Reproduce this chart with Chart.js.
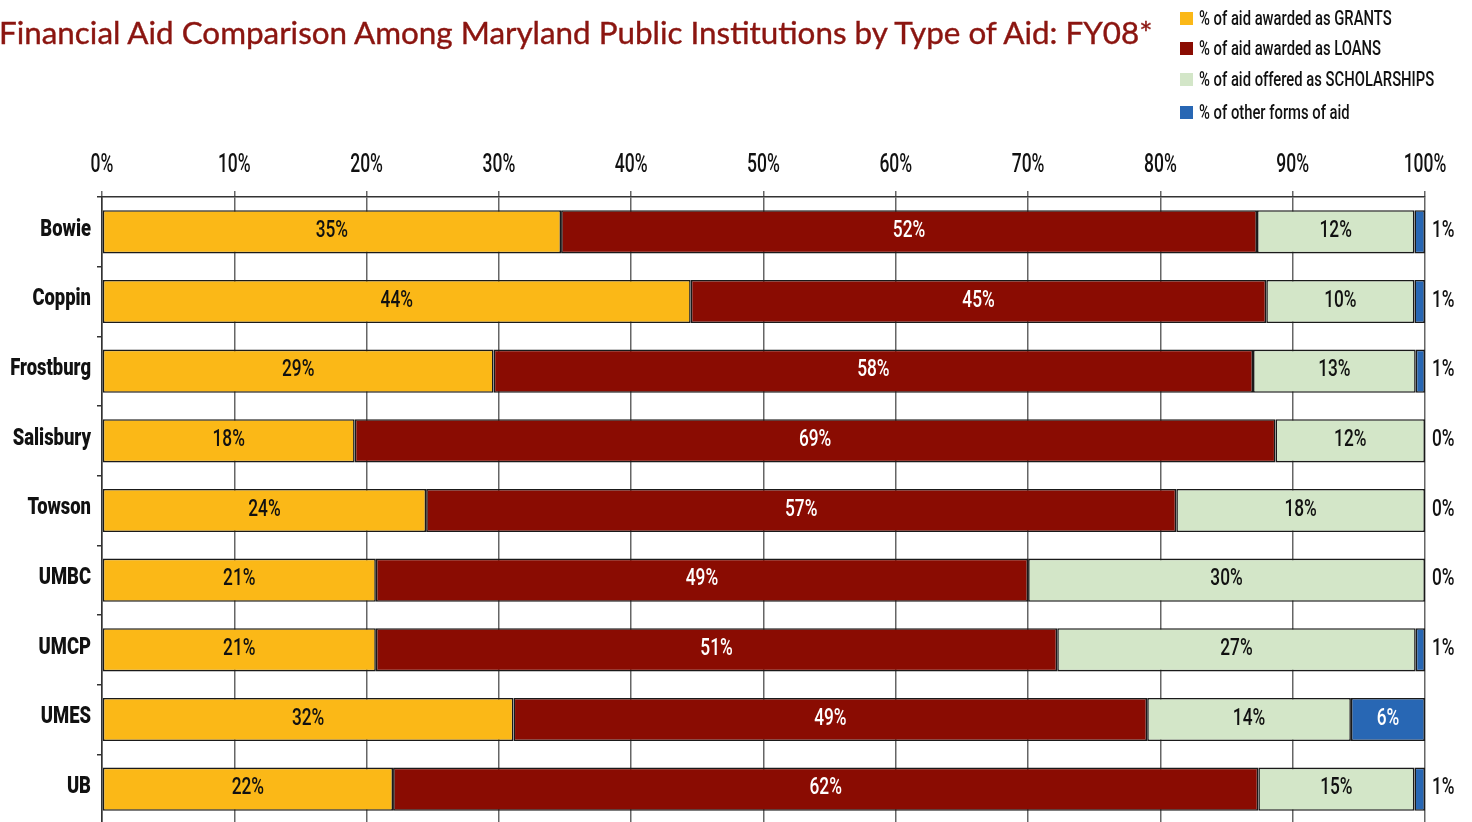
<!DOCTYPE html>
<html><head><meta charset="utf-8">
<script src="https://cdn.jsdelivr.net/npm/chart.js@4.4.1/dist/chart.umd.min.js"></script>
<style>
html,body{margin:0;padding:0;background:#fff;overflow:hidden;width:1472px;height:822px;}
#wrap{position:absolute;left:0;top:0;width:1472px;height:824px}
#title{position:absolute;left:-1px;top:13px;font-family:Lato,"Open Sans",sans-serif;font-size:31.4px;color:#8b1510;white-space:nowrap;-webkit-text-stroke:0.4px #8b1510;}
#legend{position:absolute;left:1180px;top:0;font-family:Roboto,sans-serif;font-size:20px;font-weight:500;color:#111;}
.item{position:absolute;left:0;height:24px;display:flex;align-items:center;white-space:nowrap}
.box{width:13px;height:13px;margin-right:6px;flex:none}
.txt{display:inline-block;transform:scaleX(0.74);transform-origin:0 50%}
</style></head><body>
<div id="wrap"><canvas id="c" width="1472" height="824"></canvas></div>
<div id="title"></div>
<div id="legend"></div>
<script>
const chartTitle = "Financial Aid Comparison Among Maryland Public Institutions by Type of Aid: FY08*";
const institutions = ["Bowie","Coppin","Frostburg","Salisbury","Towson","UMBC","UMCP","UMES","UB"];
const seriesNames = ["% of aid awarded as GRANTS","% of aid awarded as LOANS","% of aid offered as SCHOLARSHIPS","% of other forms of aid"];
const grants = [34.7,44.5,29.6,19.1,24.5,20.7,20.7,31.1,22.0];
const loans = [52.6,43.5,57.4,69.6,56.7,49.3,51.5,47.9,65.4];
const scholarships = [11.9,11.2,12.3,11.3,18.8,30.0,27.1,15.4,11.8];
const other = [0.8,0.8,0.7,0,0,0,0.7,5.6,0.8];
const grantsLabels = ["35%","44%","29%","18%","24%","21%","21%","32%","22%"];
const loansLabels = ["52%","45%","58%","69%","57%","49%","51%","49%","62%"];
const scholarshipsLabels = ["12%","10%","13%","12%","18%","30%","27%","14%","15%"];
const otherLabels = ["1%","1%","1%","0%","0%","0%","1%","6%","1%"];
const xTickStep = 10;

const colors = ["#fbb817","#8a0c02","#d3e6c8","#2867b4"];
const labelColors = ["#111","#fff","#111","#fff"];
const FONT = 'Roboto, "DejaVu Sans", sans-serif';

document.getElementById('title').textContent = chartTitle;
const legendTops = [6, 36, 67, 100];
const leg = document.getElementById('legend');
seriesNames.forEach((n, i) => {
  const d = document.createElement('div');
  d.className = 'item'; d.style.top = legendTops[i] + 'px';
  const b = document.createElement('span'); b.className = 'box'; b.style.background = colors[i];
  const t = document.createElement('span'); t.className = 'txt'; t.textContent = n;
  d.appendChild(b); d.appendChild(t); leg.appendChild(d);
});

function narrowText(ctx, txt, x, y, font, sx, align, color) {
  ctx.save();
  ctx.font = font;
  ctx.fillStyle = color;
  ctx.textAlign = align;
  ctx.textBaseline = 'middle';
  ctx.translate(x, y);
  ctx.scale(sx, 1);
  ctx.fillText(txt, 0, 0);
  ctx.restore();
}

const textPlugin = {
  id: 'narrowTexts',
  afterDatasetsDraw(chart) {
    const ctx = chart.ctx, area = chart.chartArea;
    chart.data.datasets.forEach((ds, i) => {
      const meta = chart.getDatasetMeta(i);
      meta.data.forEach((el, j) => {
        const v = ds.data[j], txt = ds.labelTexts[j];
        if (v < 3) {
          narrowText(ctx, txt, area.right + 7, el.y - 1, '500 24px ' + FONT, 0.72, 'left', '#111');
        } else {
          narrowText(ctx, txt, (el.x + el.base) / 2, el.y - 1, '500 24px ' + FONT, 0.72, 'center', ds.labelColor);
        }
      });
    });
    const xs = chart.scales.x;
    xs.ticks.forEach(t => {
      narrowText(ctx, t.value + '%', xs.getPixelForValue(t.value), 166, '500 25px ' + FONT, 0.7, 'center', '#111');
    });
    const ys = chart.scales.y;
    chart.data.labels.forEach((lab, i) => {
      narrowText(ctx, lab, 91, ys.getPixelForValue(i) - 2, '900 23px ' + FONT, 0.8, 'right', '#111');
    });
  }
};

const seriesData = [grants, loans, scholarships, other];
const seriesLabels = [grantsLabels, loansLabels, scholarshipsLabels, otherLabels];

new Chart(document.getElementById('c'), {
  type: 'bar',
  data: {
    labels: institutions,
    datasets: seriesData.map((d, i) => ({
      label: seriesNames[i],
      data: d,
      backgroundColor: colors[i],
      borderColor: '#1a1a1a',
      borderWidth: 1.6,
      borderSkipped: false,
      barPercentage: 0.62,
      categoryPercentage: 1,
      labelTexts: seriesLabels[i],
      labelColor: labelColors[i]
    }))
  },
  options: {
    indexAxis: 'y',
    responsive: false,
    animation: false,
    layout: { padding: { top: 0, left: 0, right: 47, bottom: 0 } },
    plugins: { legend: { display: false }, title: { display: false }, tooltip: { enabled: false } },
    scales: {
      x: {
        position: 'top', stacked: true, min: 0, max: 100,
        afterFit: s => { s.height = 197; s.paddingLeft = 0; s.paddingRight = 0; },
        ticks: { stepSize: xTickStep, display: false },
        grid: { color: '#666', lineWidth: 1.5, tickLength: 6 },
        border: { color: '#333', width: 1.5 }
      },
      y: {
        stacked: true,
        afterFit: s => { s.width = 102; s.paddingTop = 0; s.paddingBottom = 0; },
        ticks: { display: false },
        grid: { drawOnChartArea: false, tickLength: 5, color: '#333', lineWidth: 1.5 },
        border: { color: '#333', width: 1.5 }
      }
    }
  },
  plugins: [textPlugin]
});
</script>
</body></html>
